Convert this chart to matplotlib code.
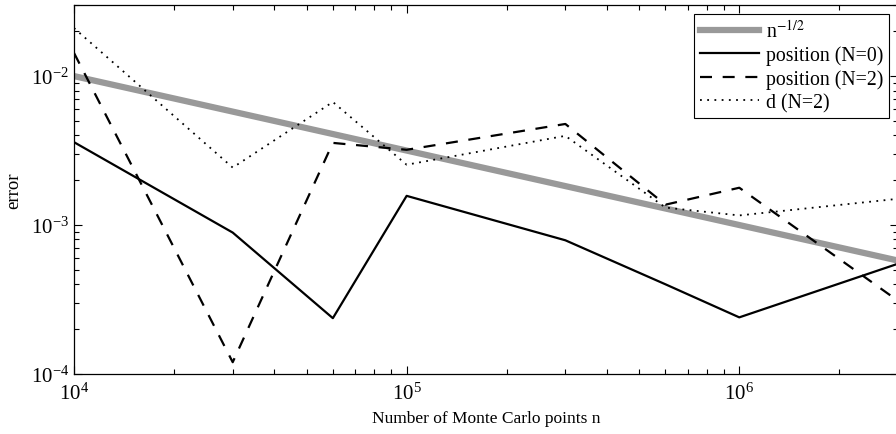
import matplotlib
matplotlib.use("Agg")
import matplotlib.pyplot as plt
import numpy as np

plt.rcParams["font.family"] = ["Liberation Serif", "DejaVu Serif"]
plt.rcParams["mathtext.fontset"] = "stix"

# number of Monte Carlo points
n = np.array([1e4, 3e4, 6e4, 1e5, 3e5, 6e5, 1e6, 3e6])

# errors
err_pos_N0 = np.array([3.6e-3, 8.9e-4, 2.37e-4, 1.57e-3, 7.9e-4, 4.0e-4, 2.4e-4, 5.5e-4])
err_pos_N2 = np.array([1.43e-2, 1.2e-4, 3.56e-3, 3.2e-3, 4.77e-3, 1.37e-3, 1.78e-3, 3.1e-4])
err_d_N2 = np.array([2.1e-2, 2.43e-3, 6.7e-3, 2.54e-3, 3.97e-3, 1.31e-3, 1.16e-3, 1.5e-3])

fig = plt.figure(figsize=(8.96, 4.35), dpi=100)
ax = fig.add_axes([74 / 896, 60 / 435, 824 / 896, 369 / 435])

ax.loglog(n, n ** -0.5, color="#999999", lw=4.5, label=r"n$^{-1/2}$")
ax.loglog(n, err_pos_N0, "k-", lw=1.6, label="position (N=0)")
ax.loglog(n, err_pos_N2, "k--", lw=1.6, dashes=(5.4, 4.8), label="position (N=2)")
ax.loglog(n, err_d_N2, "k:", lw=1.3, dashes=(1, 3.0), label="d (N=2)")

ax.set_xlim(1e4, 3e6)
ax.set_ylim(1e-4, 3e-2)
ax.set_xlabel("Number of Monte Carlo points n", fontsize=12.5, labelpad=5)
ax.set_ylabel("error", fontsize=13.5, labelpad=6)

ax.tick_params(which="both", direction="in", top=True, right=True, labelsize=15)
ax.tick_params(which="major", length=6, width=0.8)
ax.tick_params(which="minor", length=3.5, width=0.8)
ax.tick_params(axis="x", pad=6)
for s in ax.spines.values():
    s.set_linewidth(0.9)

leg = ax.legend(loc="upper right", fontsize=14.2, fancybox=False, framealpha=1,
                edgecolor="black", handlelength=3.0, borderpad=0.3,
                labelspacing=0.2, handletextpad=0.35, borderaxespad=0.45)
leg.get_frame().set_linewidth(0.8)

fig.savefig("out.png", dpi=100)
